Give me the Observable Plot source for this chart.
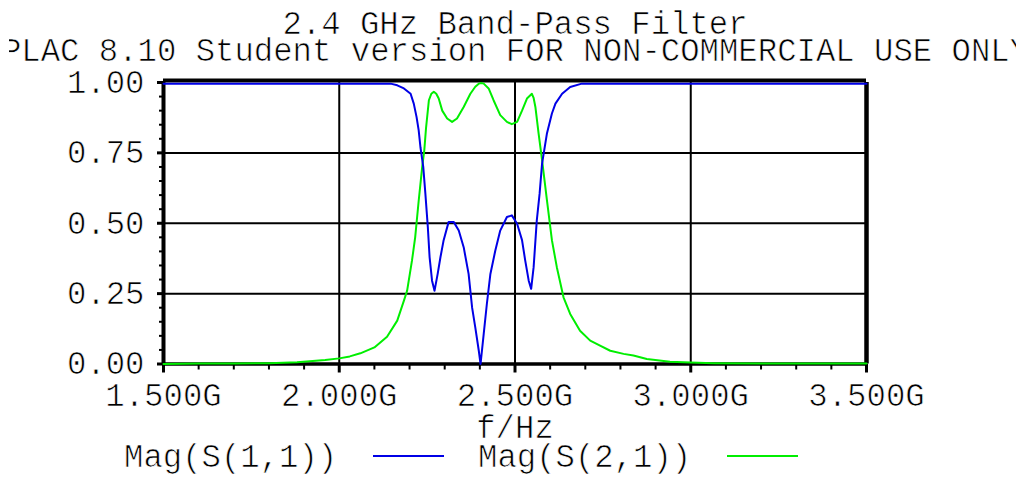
<!DOCTYPE html>
<html>
<head>
<meta charset="utf-8">
<script src="https://cdn.jsdelivr.net/npm/d3@7"></script>
<script src="https://cdn.jsdelivr.net/npm/@observablehq/plot@0.6"></script>
<style>
  html, body { margin: 0; padding: 0; background: #fff; overflow: hidden; }
  #wrap { position: relative; width: 1029px; height: 477px; }
  .leg { position: absolute; font-family: "Liberation Mono", monospace; font-size: 32.3px; line-height: 1; color: #000; white-space: pre; -webkit-text-stroke: 0.7px #fff; }
  .sw { position: absolute; height: 0; }
  svg text { stroke: #fff; stroke-width: 0.7px; paint-order: normal; }
</style>
</head>
<body>
<div id="wrap"></div>
<script>
// ---- text ----
const title = "2.4 GHz Band-Pass Filter";
const subtitle = "APLAC 8.10 Student version FOR NON-COMMERCIAL USE ONLY";
const xLabel = "f/Hz";
const seriesNames = ["Mag(S(1,1))", "Mag(S(2,1))"];
const seriesColors = ["#0000e6", "#00ee00"];

// ---- ticks ----
const xTicks = [1.5, 2.0, 2.5, 3.0, 3.5];          // GHz
const yTicks = [0.0, 0.25, 0.5, 0.75, 1.0];
const xMinor = [1.6,1.7,1.8,1.9,2.1,2.2,2.3,2.4,2.6,2.7,2.8,2.9,3.1,3.2,3.3,3.4];
const yMinor = [0.05,0.1,0.15,0.2,0.3,0.35,0.4,0.45,0.55,0.6,0.65,0.7,0.8,0.85,0.9,0.95];

// ---- data: Mag(S(1,1)) ----
const freqS11 = [1.50, 2.00, 2.146, 2.165, 2.184, 2.203, 2.212, 2.220, 2.226, 2.231, 2.239, 2.245, 2.252, 2.257, 2.264, 2.271, 2.280, 2.288, 2.297, 2.311, 2.326, 2.340, 2.354, 2.368, 2.378, 2.387, 2.397, 2.402, 2.411, 2.420, 2.430, 2.444, 2.458, 2.477, 2.491, 2.506, 2.520, 2.529, 2.539, 2.546, 2.553, 2.562, 2.570, 2.577, 2.591, 2.605, 2.615, 2.634, 2.657, 2.690, 3.00, 3.50];
const magS11  = [0.996, 0.996, 0.996, 0.990, 0.979, 0.960, 0.925, 0.877, 0.830, 0.770, 0.700, 0.605, 0.486, 0.380, 0.296, 0.260, 0.320, 0.380, 0.440, 0.504, 0.504, 0.474, 0.415, 0.320, 0.200, 0.130, 0.047, 0.000, 0.107, 0.214, 0.320, 0.403, 0.474, 0.522, 0.528, 0.498, 0.440, 0.368, 0.296, 0.267, 0.344, 0.510, 0.605, 0.712, 0.820, 0.890, 0.925, 0.960, 0.984, 0.996, 0.996, 0.996];

// ---- data: Mag(S(2,1)) ----
const freqS21 = [1.50, 1.60, 1.70, 1.80, 1.88, 1.96, 2.00, 2.03, 2.06, 2.10, 2.136, 2.165, 2.184, 2.193, 2.207, 2.216, 2.226, 2.236, 2.242, 2.247, 2.255, 2.262, 2.269, 2.276, 2.283, 2.293, 2.307, 2.321, 2.335, 2.354, 2.373, 2.387, 2.397, 2.404, 2.411, 2.425, 2.439, 2.458, 2.477, 2.491, 2.506, 2.520, 2.534, 2.548, 2.553, 2.558, 2.567, 2.577, 2.591, 2.605, 2.619, 2.638, 2.657, 2.685, 2.714, 2.742, 2.771, 2.809, 2.837, 2.875, 2.941, 3.00, 3.064, 3.20, 3.35, 3.50];
const magS21  = [0.000, 0.002, 0.002, 0.003, 0.006, 0.014, 0.020, 0.027, 0.038, 0.059, 0.097, 0.154, 0.225, 0.260, 0.368, 0.450, 0.580, 0.700, 0.760, 0.840, 0.937, 0.960, 0.967, 0.960, 0.943, 0.900, 0.872, 0.860, 0.872, 0.913, 0.960, 0.985, 0.996, 0.998, 0.996, 0.979, 0.937, 0.884, 0.860, 0.852, 0.860, 0.900, 0.943, 0.960, 0.945, 0.913, 0.820, 0.724, 0.580, 0.440, 0.344, 0.237, 0.178, 0.118, 0.083, 0.065, 0.047, 0.036, 0.030, 0.018, 0.008, 0.005, 0.003, 0.002, 0.002, 0.002];

const s11 = freqS11.map((f, i) => ({f, v: magS11[i]}));
const s21 = freqS21.map((f, i) => ({f, v: magS21[i]}));

const FONT = "'Liberation Mono', 'Courier New', monospace";
const FS = 32.3;

const chart = Plot.plot({
  width: 1029,
  height: 477,
  marginLeft: 163,
  marginRight: 163,
  marginTop: 82,
  marginBottom: 113.5,
  style: {fontFamily: FONT, fontSize: FS + "px", color: "#000", background: "#fff"},
  x: {domain: [1.5, 3.5], axis: null},
  y: {domain: [0, 1], axis: null},
  marks: [
    // grid
    Plot.ruleX(xTicks.slice(1, -1), {stroke: "#000", strokeWidth: 2}),
    Plot.ruleY(yTicks.slice(1, -1), {stroke: "#000", strokeWidth: 2}),
    // minor ticks
    Plot.axisY(yMinor, {anchor: "left", tickSize: 4, tickPadding: 0, strokeWidth: 2, stroke: "#000", tickFormat: () => "", label: null}),
    Plot.axisX(xMinor, {anchor: "bottom", tickSize: 6, tickPadding: 0, strokeWidth: 2, stroke: "#000", tickFormat: () => "", label: null}),
    // major axes
    Plot.axisY(yTicks, {anchor: "left", tickSize: 6, tickPadding: 13, strokeWidth: 3, stroke: "#000",
      tickFormat: d3.format(".2f"), fontSize: FS, label: null}),
    Plot.axisX(xTicks, {anchor: "bottom", tickSize: 9, tickPadding: 10, strokeWidth: 3, stroke: "#000",
      tickFormat: d => d.toFixed(3) + "G", fontSize: FS, label: null}),
    // frame
    Plot.ruleX([1.5], {stroke: "#000", strokeWidth: 4}),
    Plot.ruleX([3.5], {stroke: "#000", strokeWidth: 4.5}),
    Plot.ruleY([0], {stroke: "#000", strokeWidth: 3.5}),
    Plot.ruleY([1], {stroke: "#000", strokeWidth: 4, dy: -2}),
    // curves
    Plot.line(s21, {x: "f", y: "v", stroke: seriesColors[1], strokeWidth: 2}),
    Plot.line(s11, {x: "f", y: "v", stroke: seriesColors[0], strokeWidth: 2}),
    // texts
    Plot.text([title], {frameAnchor: "top", lineAnchor: "middle", dy: -58.5, fontSize: FS, fill: "#000"}),
    Plot.text([subtitle], {frameAnchor: "top-left", lineAnchor: "middle", textAnchor: "start", dx: -181, dy: -32, fontSize: FS, fill: "#000"}),
    Plot.text([xLabel], {frameAnchor: "bottom", lineAnchor: "middle", dy: 64, fontSize: FS, fill: "#000"})
  ]
});

// clip the subtitle like the original canvas (clip in SVG coordinates)
const svg = d3.select(chart);
svg.append("defs").append("clipPath").attr("id", "subclip")
  .append("rect").attr("x", 9).attr("y", 0).attr("width", 1007).attr("height", 80);
svg.selectAll("text").filter(function() { return this.textContent === subtitle; }).each(function() {
  const markG = this.parentNode;
  const holder = document.createElementNS("http://www.w3.org/2000/svg", "g");
  holder.setAttribute("clip-path", "url(#subclip)");
  markG.parentNode.insertBefore(holder, markG);
  holder.appendChild(markG);
});

const wrap = document.getElementById("wrap");
wrap.appendChild(chart);

// legend (below the plot)
const legendItems = [
  {name: seriesNames[0], color: seriesColors[0], tx: 124, lx: 373, lw: 71},
  {name: seriesNames[1], color: seriesColors[1], tx: 478, lx: 727, lw: 71}
];
for (const it of legendItems) {
  const t = document.createElement("div");
  t.className = "leg";
  t.textContent = it.name;
  t.style.left = it.tx + "px";
  t.style.top = "443px";
  wrap.appendChild(t);
  const s = document.createElement("div");
  s.className = "sw";
  s.style.left = it.lx + "px";
  s.style.top = "454.5px";
  s.style.width = it.lw + "px";
  s.style.borderTop = "2.5px solid " + it.color;
  wrap.appendChild(s);
}
</script>
</body>
</html>
